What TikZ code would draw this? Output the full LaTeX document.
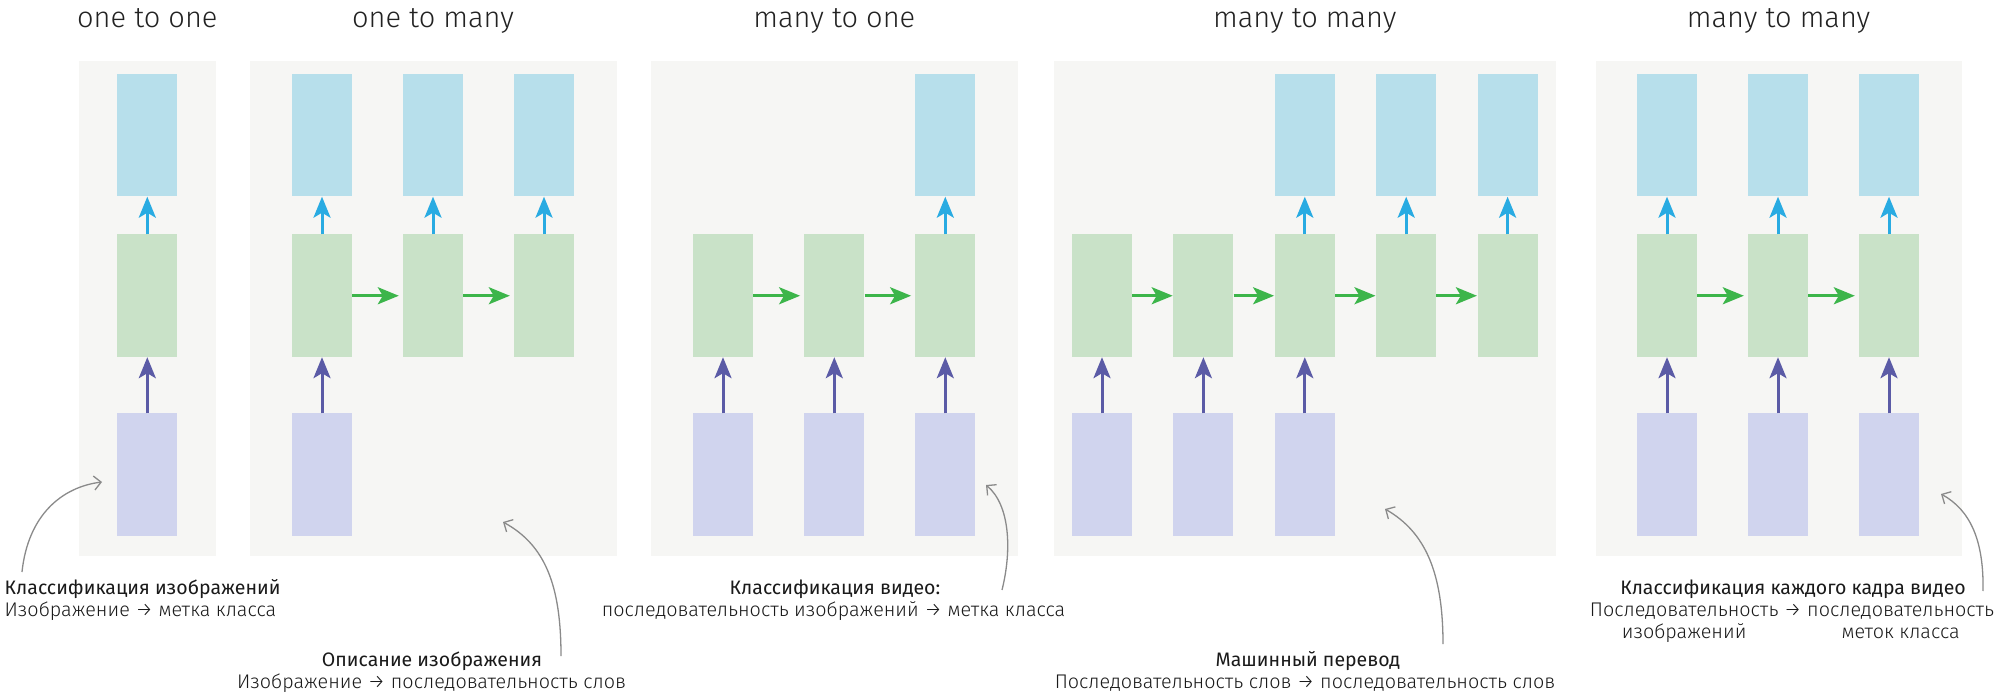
\documentclass[tikz,border=0pt]{standalone}
\usepackage{fontspec}
\usetikzlibrary{arrows.meta}
\setmainfont{Fira Sans}
\newfontfamily\regf{Fira Sans}
\IfFontExistsTF{Fira Sans Light}
  {\newfontfamily\lightf{Fira Sans Light}}
  {\IfFontExistsTF{FiraSans-Light}
    {\newfontfamily\lightf{FiraSans-Light}}
    {\IfFontExistsTF{Fira Sans Book}
      {\newfontfamily\lightf{Fira Sans Book}}
      {\newfontfamily\lightf{Fira Sans}}}}
\definecolor{panelc}{HTML}{F6F6F4}
\definecolor{bluebox}{HTML}{B7DFEB}
\definecolor{greenbox}{HTML}{C9E2C8}
\definecolor{purplebox}{HTML}{D0D4EE}
\definecolor{arrblue}{HTML}{29ABE2}
\definecolor{arrgreen}{HTML}{3CB54A}
\definecolor{arrpurple}{HTML}{5B5BA6}
\definecolor{notec}{HTML}{8A8A8A}
\definecolor{titlec}{HTML}{222222}
\definecolor{textc}{HTML}{1A1A1A}
\begin{document}
\begin{tikzpicture}[x=1pt,y=-1pt,
  cell/.style={minimum width=60pt, minimum height=122.5pt, inner sep=0pt, draw=none},
  outbox/.style={cell, fill=bluebox},
  hidbox/.style={cell, fill=greenbox},
  inbox/.style={cell, fill=purplebox},
  uparr/.style={draw=arrblue, line width=3pt, -{Stealth[length=21pt,width=17pt,inset=5pt]}},
  inarr/.style={draw=arrpurple, line width=3pt, -{Stealth[length=21pt,width=17pt,inset=5pt]}},
  recarr/.style={draw=arrgreen, line width=3pt, -{Stealth[length=21pt,width=17pt,inset=5pt]}, shorten >=4pt},
  recarrt/.style={recarr, shorten >=0.5pt},
  note/.style={draw=notec, line width=1.3pt, -{Straight Barb[length=7pt,width=14pt]}},
  ttl/.style={anchor=base, inner sep=0pt, text=titlec, font=\lightf\fontsize{29}{34}\selectfont},
  head/.style={anchor=base, inner sep=0pt, text=textc, font=\regf\fontsize{19.5}{22}\selectfont},
  sub/.style={anchor=base, inner sep=0pt, text=textc, font=\lightf\fontsize{19.75}{22}\selectfont},
]
\useasboundingbox (0,0) rectangle (2000,700);
\fill[white] (0,0) rectangle (2000,700);
% panels
\fill[panelc] (79,61) rectangle (215.5,556);
\fill[panelc] (250,61) rectangle (616.5,556);
\fill[panelc] (651,61) rectangle (1017.6,556);
\fill[panelc] (1054,61) rectangle (1555.6,556);
\fill[panelc] (1595.5,61) rectangle (1961.7,556);
% titles
\node[ttl] (t1) at (147.3,28) {one to one};
\node[ttl] (t2) at (433,28) {one to many};
\node[ttl] (t3) at (834.3,28) {many to one};
\node[ttl] (t4) at (1304.8,28) {many to many};
\node[ttl] (t5) at (1778.6,28) {many to many};
% panel 1
\node[outbox] (o11) at (147.3,135.25) {};
\node[hidbox] (h11) at (147.3,295.75) {};
\node[inbox]  (i11) at (147.3,474.75) {};
\draw[inarr] (i11.north) -- (h11.south);
\draw[uparr] (h11.north) -- (o11.south);
% panel 2
\foreach \k/\x in {1/322,2/433,3/544}{
  \node[outbox] (o2\k) at (\x,135.25) {};
  \node[hidbox] (h2\k) at (\x,295.75) {};
  \draw[uparr] (h2\k.north) -- (o2\k.south);
}
\node[inbox] (i21) at (322,474.75) {};
\draw[inarr] (i21.north) -- (h21.south);
\draw[recarr] (h21.east) -- (h22.west);
\draw[recarr] (h22.east) -- (h23.west);
% panel 3
\foreach \k/\x in {1/723,2/834.3,3/945.3}{
  \node[hidbox] (h3\k) at (\x,295.75) {};
  \node[inbox] (i3\k) at (\x,474.75) {};
  \draw[inarr] (i3\k.north) -- (h3\k.south);
}
\node[outbox] (o33) at (945.3,135.25) {};
\draw[uparr] (h33.north) -- (o33.south);
\draw[recarr] (h31.east) -- (h32.west);
\draw[recarr] (h32.east) -- (h33.west);
% panel 4
\foreach \k/\x in {1/1102,2/1203.4,3/1304.8,4/1406.2,5/1507.6}{
  \node[hidbox] (h4\k) at (\x,295.75) {};
}
\foreach \k/\x in {1/1102,2/1203.4,3/1304.8}{
  \node[inbox] (i4\k) at (\x,474.75) {};
  \draw[inarr] (i4\k.north) -- (h4\k.south);
}
\foreach \k/\x in {3/1304.8,4/1406.2,5/1507.6}{
  \node[outbox] (o4\k) at (\x,135.25) {};
  \draw[uparr] (h4\k.north) -- (o4\k.south);
}
\draw[recarrt] (h41.east) -- (h42.west);
\draw[recarrt] (h42.east) -- (h43.west);
\draw[recarrt] (h43.east) -- (h44.west);
\draw[recarrt] (h44.east) -- (h45.west);
% panel 5
\foreach \k/\x in {1/1667,2/1778,3/1889}{
  \node[outbox] (o5\k) at (\x,135.25) {};
  \node[hidbox] (h5\k) at (\x,295.75) {};
  \node[inbox] (i5\k) at (\x,474.75) {};
  \draw[inarr] (i5\k.north) -- (h5\k.south);
  \draw[uparr] (h5\k.north) -- (o5\k.south);
}
\draw[recarr] (h51.east) -- (h52.west);
\draw[recarr] (h52.east) -- (h53.west);
% captions
\node[head, anchor=base west] (c1a) at (4.5,594) {Классификация изображений};
\node[sub, anchor=base west] (c1b) at (4.5,616) {Изображение → метка класса};
\node[head] (c2a) at (432,666) {Описание изображения};
\node[sub] (c2b) at (431.5,688) {Изображение → последовательность слов};
\node[head] (c3a) at (835,594) {Классификация видео:};
\node[sub] (c3b) at (833.5,616) {последовательность изображений → метка класса};
\node[head] (c4a) at (1308,666) {Машинный перевод};
\node[sub] (c4b) at (1305,688) {Последовательность слов → последовательность слов};
\node[head] (c5a) at (1793,594) {Классификация каждого кадра видео};
\node[sub] (c5b) at (1792,616) {\begin{tabular}[t]{@{}c@{\ }c@{\ }c@{}}Последовательность & → & последовательность\\ изображений & & меток класса\end{tabular}};
% annotation arrows
\coordinate (a1s) at (22,572);   \coordinate (a1e) at (102,482);
\coordinate (a2s) at (561,656);  \coordinate (a2e) at (503,522);
\coordinate (a3s) at (1002,590); \coordinate (a3e) at (986,485);
\coordinate (a4s) at (1443,644); \coordinate (a4e) at (1385,509);
\coordinate (a5s) at (1983,591); \coordinate (a5e) at (1941,494);
\draw[note] (a1s) .. controls (28,515) and (62,487) .. (a1e);
\draw[note] (a2s) .. controls (561,585) and (545,545) .. (a2e);
\draw[note] (a3s) .. controls (1012,550) and (1010,505) .. (a3e);
\draw[note] (a4s) .. controls (1443,572) and (1425,532) .. (a4e);
\draw[note] (a5s) .. controls (1984,540) and (1970,510) .. (a5e);
\end{tikzpicture}
\end{document}
